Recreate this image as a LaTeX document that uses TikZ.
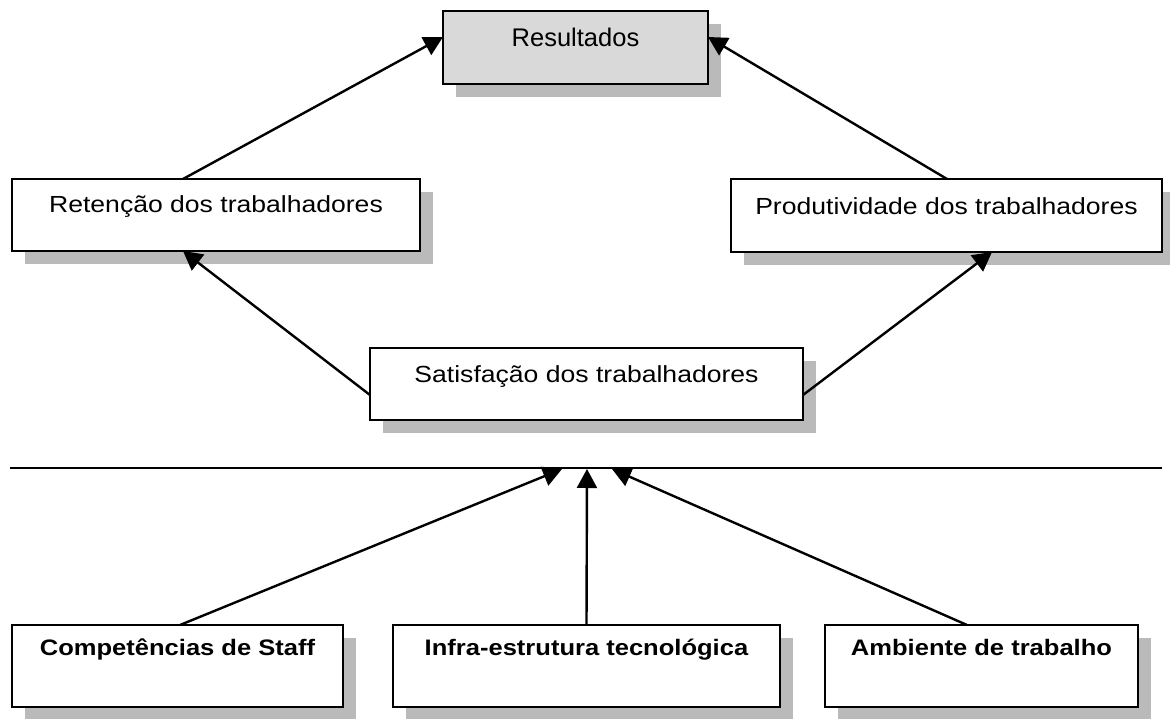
\documentclass[tikz,border=0pt]{standalone}
\usepackage{fontspec}
\setmainfont{Liberation Sans}
\newfontfamily\widesans[FakeStretch=1.14]{Liberation Sans}
\usetikzlibrary{arrows.meta,shadows}

\begin{document}
\begin{tikzpicture}[x=1pt,y=-1pt,
  box/.style={draw=black, line width=2.4pt, fill=white, inner sep=0pt, outer sep=0pt,
    drop shadow={shadow xshift=13pt, shadow yshift=-13pt, opacity=1, fill=black!27}},
  boxtext/.style={anchor=base, inner sep=0pt, font=\widesans\fontsize{23.3}{28}\selectfont},
  boldtext/.style={anchor=base, inner sep=0pt, font=\widesans\bfseries\fontsize{22.4}{27}\selectfont},
  link/.style={line width=2.4pt, -{Triangle[length=19pt,width=20pt]}},
]
\useasboundingbox (0,0) rectangle (1170,719);

% results
\node[box, fill=black!15, minimum width=265pt, minimum height=73pt] (res) at (575.5,47.5) {};
\node[inner sep=0pt, anchor=base, font=\fontsize{25.5}{30}\selectfont] (res-t) at ([yshift=-36pt]res.north) {Resultados};

% middle level
\node[box, minimum width=408pt, minimum height=72pt] (ret) at (216,215) {};
\node[boxtext] (ret-t) at ([yshift=-34pt]ret.north) {Retenção dos trabalhadores};

\node[box, minimum width=431pt, minimum height=73pt] (prod) at (946.5,215.5) {};
\node[boxtext] (prod-t) at ([yshift=-36pt]prod.north) {Produtividade dos trabalhadores};

\node[box, minimum width=433pt, minimum height=72pt] (sat) at (586.5,384) {};
\node[boxtext] (sat-t) at ([yshift=-34pt]sat.north) {Satisfação dos trabalhadores};

% drivers
\node[box, minimum width=331pt, minimum height=82pt] (comp) at (177.5,666) {};
\node[boldtext] (comp-t) at ([yshift=-30pt]comp.north) {Competências de Staff};

\node[box, minimum width=387pt, minimum height=82pt] (infra) at (586.5,666) {};
\node[boldtext] (infra-t) at ([yshift=-30pt]infra.north) {Infra-estrutura tecnológica};

\node[box, minimum width=313pt, minimum height=82pt] (amb) at (981.5,666) {};
\node[boldtext] (amb-t) at ([yshift=-30pt]amb.north) {Ambiente de trabalho};

% separator line and arrow targets on it
\coordinate (sep-w) at (10,468);
\coordinate (sep-e) at (1162,468);
\coordinate (tip-l) at (562,469);
\coordinate (tip-m) at (587,469);
\coordinate (tip-r) at (612,469);
\draw[line width=2.8pt] (sep-w) -- (sep-e);

% connectors
\draw[link] ([xshift=171pt]ret.north west) -- ([yshift=-26pt]res.north west);
\draw[link] ([xshift=216pt]prod.north west) -- ([yshift=-26pt]res.north east);
\draw[link] ([yshift=-47pt]sat.north west) -- ([xshift=171pt]ret.south west);
\draw[link] ([yshift=-47pt]sat.north east) -- ([xshift=261pt]prod.south west);
\draw[link] ([xshift=168pt]comp.north west) -- (tip-l);
\draw[link] (infra.north) -- (tip-m);
\draw[link] ([xshift=142pt]amb.north west) -- (tip-r);
\end{tikzpicture}
\end{document}
